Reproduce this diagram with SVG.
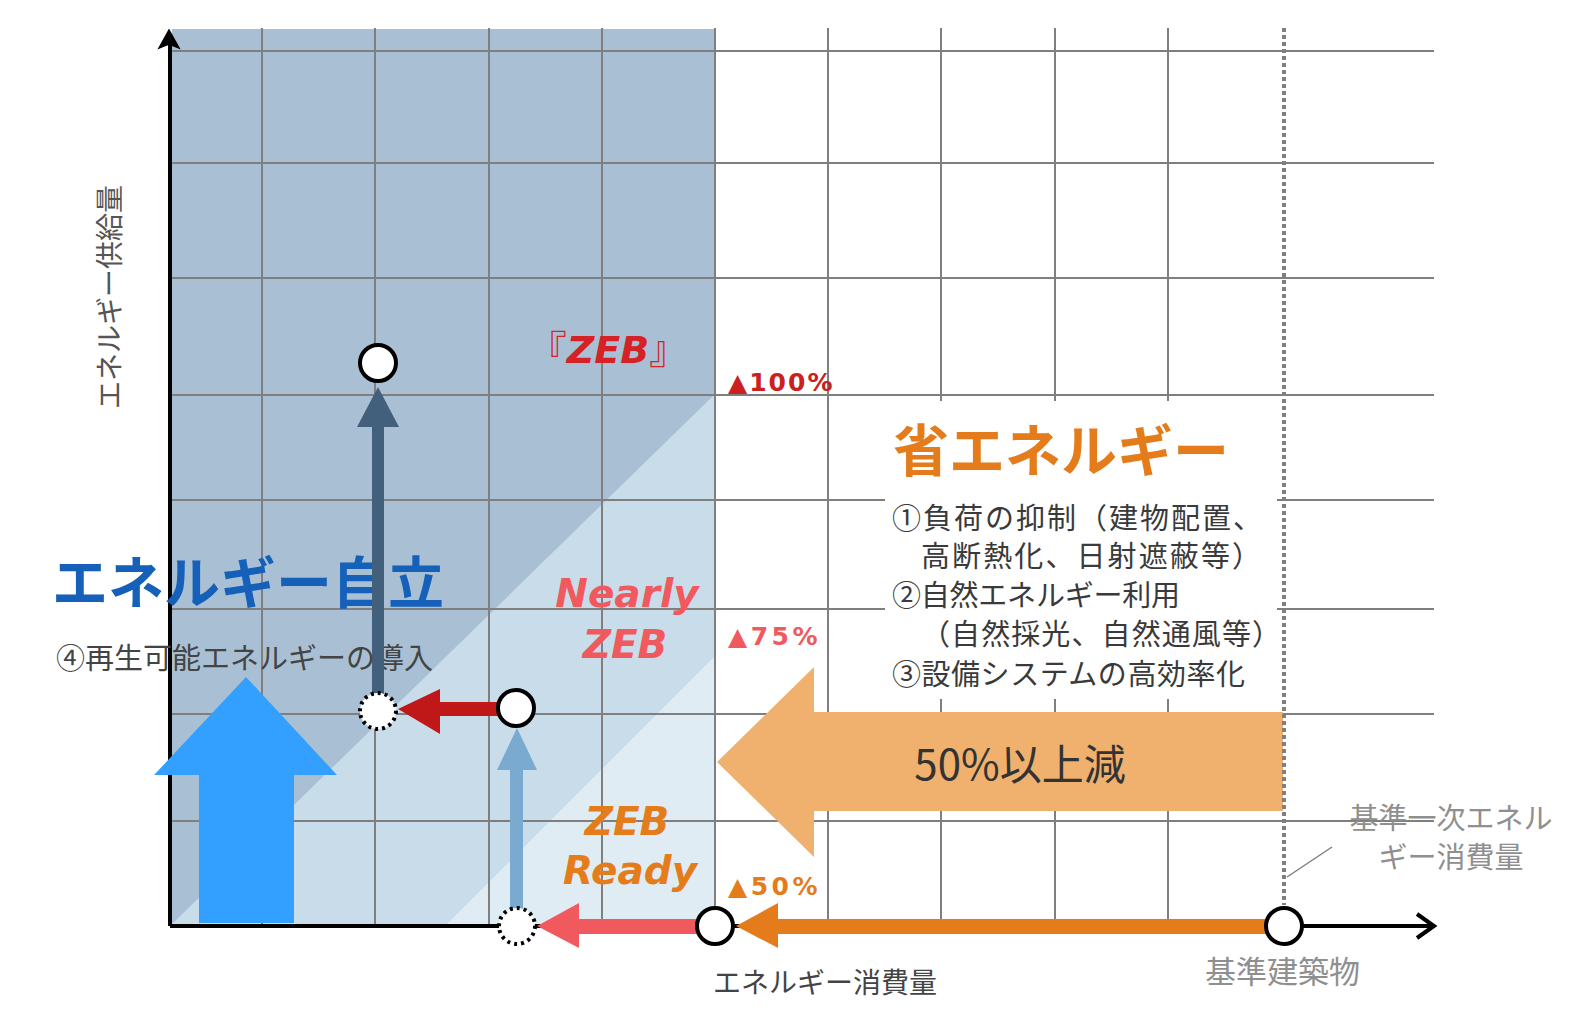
<svg xmlns="http://www.w3.org/2000/svg" width="1572" height="1010" viewBox="0 0 1572 1010">
<defs>
<style>
.grid{stroke:#7f7f7f;stroke-width:2;fill:none}
.jp{font-family:"Noto Sans CJK JP","Noto Sans",sans-serif}
.lat{font-family:"DejaVu Sans","Noto Sans CJK JP",sans-serif;font-weight:bold;font-style:italic}
.pct{font-family:"DejaVu Sans","Noto Sans CJK JP",sans-serif;font-weight:bold}
.node{fill:#fff;stroke:#000;stroke-width:4}
.dnode{fill:#fff;stroke:#000;stroke-width:4;stroke-dasharray:3 4}
.list{font-size:29px;fill:#3a3a3a}
.gray{fill:#8f8f8f}
</style>
</defs>
<rect width="1572" height="1010" fill="#fff"/>
<g id="shading">
<rect x="172" y="29" width="542" height="897" fill="#a9c0d4"/>
<polygon points="714,395 714,926 170,926" fill="#c9dcea"/>
<polygon points="714,657 714,926 445,926" fill="#e0ecf4"/>
</g>
<g id="grid" class="grid">
<line x1="170" y1="51" x2="1434" y2="51"/>
<line x1="170" y1="163" x2="1434" y2="163"/>
<line x1="170" y1="278" x2="1434" y2="278"/>
<line x1="170" y1="395" x2="1434" y2="395"/>
<line x1="170" y1="500" x2="1434" y2="500"/>
<line x1="170" y1="609" x2="1434" y2="609"/>
<line x1="170" y1="714" x2="1434" y2="714"/>
<line x1="170" y1="821" x2="1434" y2="821"/>
<line x1="262" y1="28" x2="262" y2="926"/>
<line x1="375" y1="28" x2="375" y2="926"/>
<line x1="489" y1="28" x2="489" y2="926"/>
<line x1="602" y1="28" x2="602" y2="926"/>
<line x1="715" y1="28" x2="715" y2="926"/>
<line x1="828" y1="28" x2="828" y2="926"/>
<line x1="941" y1="28" x2="941" y2="926"/>
<line x1="1055" y1="28" x2="1055" y2="926"/>
<line x1="1168" y1="28" x2="1168" y2="926"/>
</g>
<rect id="textbox" x="885" y="401" width="392" height="298" fill="#fff"/>
<g id="saving-arrow">
<polygon points="717,762 814,667 814,712 1283,712 1283,811 814,811 814,857" fill="#f0b06e"/>
<text class="jp" x="1020" y="780" font-size="42" fill="#333" text-anchor="middle">50%以上減</text>
</g>
<line id="base-line" x1="1284" y1="28" x2="1284" y2="905" stroke="#808080" stroke-width="4" stroke-dasharray="4 3"/>
<line x1="1287" y1="877" x2="1332" y2="847" stroke="#808080" stroke-width="1.5"/>
<g id="axes" fill="none" stroke="#000" stroke-width="4">
<line x1="170" y1="926" x2="170" y2="40"/>
<polygon points="159,48 169,30 179,48 169,44" fill="#000" stroke-width="1.5"/>
<line x1="170" y1="926" x2="1432" y2="926"/>
<polyline points="1417,914 1434,926 1417,938"/>
</g>
<g id="labels">
<text class="jp" transform="translate(120,297) rotate(-90)" font-size="28" fill="#555" text-anchor="middle">エネルギー供給量</text>
<text class="lat" x="608" y="363" font-size="38" fill="#d42226" text-anchor="middle"><tspan font-family="Noto Sans CJK JP" font-style="normal" font-weight="normal">『</tspan>ZEB<tspan font-family="Noto Sans CJK JP" font-style="normal" font-weight="normal">』</tspan></text>
<text class="pct" x="728" y="391" font-size="25" fill="#cc2020" letter-spacing="2">▲100%</text>
<text class="lat" x="627" y="607" font-size="39" fill="#f05a5e" text-anchor="middle">Nearly</text>
<text class="lat" x="625" y="658" font-size="39" fill="#f05a5e" text-anchor="middle">ZEB</text>
<text class="pct" x="728" y="645" font-size="25" fill="#f05a5e" letter-spacing="3.5">▲75%</text>
<text class="lat" x="627" y="835" font-size="39" fill="#e47c1c" text-anchor="middle">ZEB</text>
<text class="lat" x="630" y="884" font-size="39" fill="#e47c1c" text-anchor="middle">Ready</text>
<text class="pct" x="728" y="895" font-size="25" fill="#e47c1c" letter-spacing="3.5">▲50%</text>
<text class="jp" x="893" y="471" font-size="56" font-weight="bold" fill="#e47c1c">省エネルギー</text>
<text class="jp list" x="892" y="529" textLength="370" lengthAdjust="spacing">①負荷の抑制（建物配置、</text>
<text class="jp list" x="921" y="567" textLength="340" lengthAdjust="spacing">高断熱化、日射遮蔽等）</text>
<text class="jp list" x="892" y="606" textLength="288" lengthAdjust="spacing">②自然エネルギー利用</text>
<text class="jp list" x="921" y="645" textLength="360" lengthAdjust="spacing">（自然採光、自然通風等）</text>
<text class="jp list" x="892" y="685" textLength="353" lengthAdjust="spacing">③設備システムの高効率化</text>
<text class="jp" x="52" y="603" font-size="56" font-weight="bold" fill="#1560b8">エネルギー自立</text>
<text class="jp" x="56" y="669" font-size="29" fill="#444">④再生可能エネルギーの導入</text>
<text class="jp" x="713" y="993" font-size="28" fill="#444">エネルギー消費量</text>
<text class="jp gray" x="1205" y="983" font-size="31">基準建築物</text>
<text class="jp gray" x="1451" y="829" font-size="29" text-anchor="middle">基準一次エネル</text>
<text class="jp gray" x="1451" y="868" font-size="29" text-anchor="middle">ギー消費量</text>
</g>
<g id="connectors">
<polygon id="big-blue" points="246,677 337,775 294,775 294,923 199,923 199,775 154,775" fill="#33a0ff"/>
<g id="b-to-a" fill="#42607c">
<rect x="372" y="425" width="12" height="270"/>
<polygon points="378,387 399,427 357,427"/>
</g>
<g id="c-to-b" fill="#c01818">
<rect x="438" y="702" width="62" height="14"/>
<polygon points="398,709 440,689 440,734"/>
</g>
<g id="d-to-c" fill="#7aaad0">
<rect x="510" y="768" width="13" height="142"/>
<polygon points="517,728 537,770 497,770"/>
</g>
<g id="e-to-d" fill="#f05a5e">
<rect x="577" y="919" width="122" height="15"/>
<polygon points="537,926 579,903 579,948"/>
</g>
<g id="f-to-e" fill="#e47c1c">
<rect x="776" y="919" width="492" height="15"/>
<polygon points="736,926 778,903 778,948"/>
</g>
</g>
<g id="node-a"><circle class="node" cx="378" cy="363" r="18"/></g>
<g id="node-b"><circle class="dnode" cx="378" cy="711" r="18"/></g>
<g id="node-c"><circle class="node" cx="516" cy="708" r="18"/></g>
<g id="node-d"><circle class="dnode" cx="517" cy="926" r="18"/></g>
<g id="node-e"><circle class="node" cx="715" cy="926" r="18"/></g>
<g id="node-f"><circle class="node" cx="1284" cy="926" r="18"/></g>
</svg>
